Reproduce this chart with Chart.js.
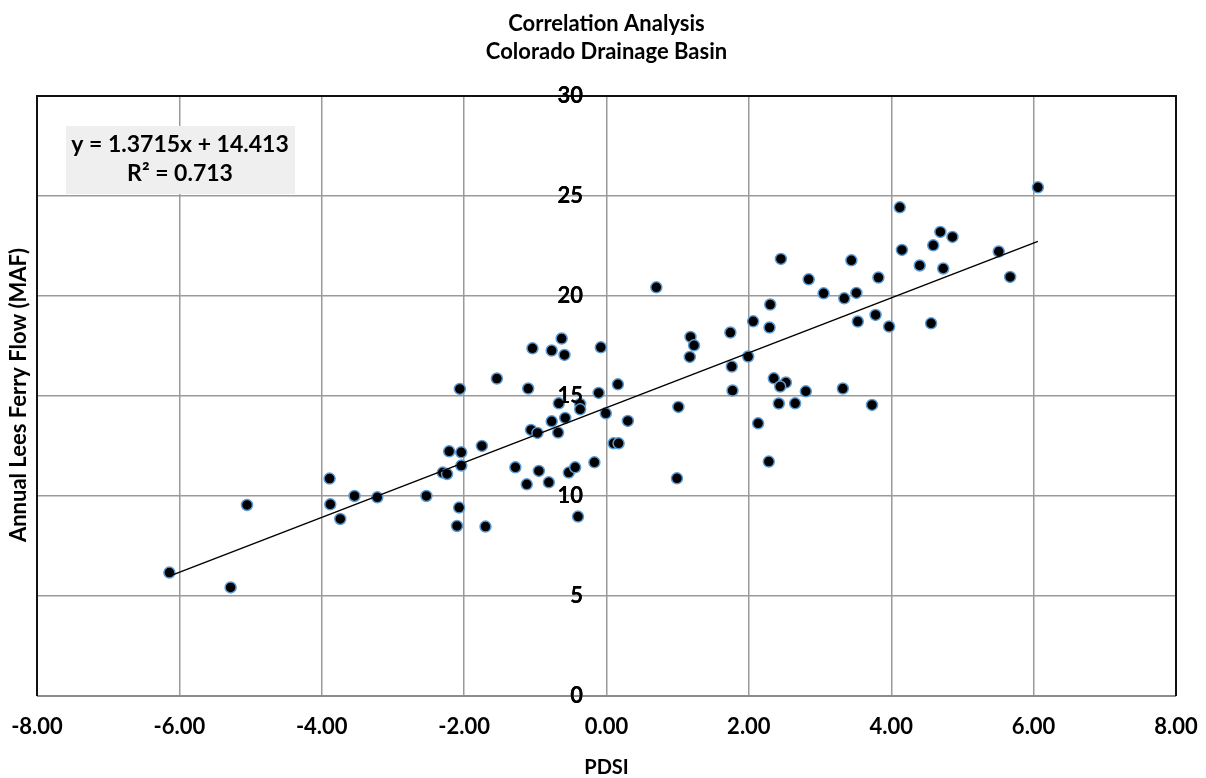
<!DOCTYPE html>
<html>
<head>
<meta charset="utf-8">
<script src="https://cdn.jsdelivr.net/npm/chart.js@4.4.0/dist/chart.umd.min.js"></script>
<style>
  html, body { margin: 0; padding: 0; background: #fff; }
  #wrap { width: 1206px; height: 778px; }
</style>
</head>
<body>
<div id="wrap"><canvas id="chart" width="1206" height="778"></canvas></div>
<script>
// PDSI vs annual flow
const pdsi = [
  -6.14, -5.28, -5.05, -3.89, -3.88, -3.74, -3.54, -3.22, -2.53, -2.21,
  -2.30, -2.24, -2.04, -2.04, -2.06, -2.07, -2.10, -1.75, -1.70, -1.54,
  -1.28, -1.12, -1.10, -1.06, -0.97, -1.04, -0.95, -0.81, -0.77, -0.63,
  -0.59, -0.67, -0.77, -0.68, -0.58, -0.53, -0.44, -0.40, -0.37, -0.37,
  -0.17, -0.08, -0.11, -0.01, 0.10, 0.17, 0.16, 0.30, 0.70, 1.01,
  0.99, 1.18, 1.23, 1.17, 1.74, 1.76, 1.77, 1.99, 2.06, 2.13,
  2.28, 2.29, 2.30, 2.35, 2.52, 2.44, 2.42, 2.45, 2.65, 2.80,
  2.84, 3.05, 3.32, 3.34, 3.44, 3.51, 3.53, 3.73, 3.78, 3.82,
  3.97, 4.56, 4.12, 4.15, 4.40, 4.59, 4.69, 4.86, 4.73, 5.51,
  5.67, 6.06
];
const flow = [
  6.17, 5.43, 9.55, 10.87, 9.58, 8.85, 10.00, 9.93, 10.00, 12.23,
  11.17, 11.10, 12.18, 11.52, 15.35, 9.42, 8.50, 12.50, 8.47, 15.87,
  11.43, 10.58, 15.37, 13.30, 13.15, 17.38, 11.25, 10.68, 17.27, 17.87,
  17.05, 14.63, 13.73, 13.17, 13.90, 11.17, 11.43, 8.97, 14.60, 14.33,
  11.68, 17.43, 15.15, 14.13, 12.63, 12.63, 15.58, 13.75, 20.43, 14.45,
  10.88, 17.95, 17.53, 16.95, 18.17, 16.47, 15.27, 16.97, 18.73, 13.63,
  11.72, 18.42, 19.57, 15.88, 15.67, 15.47, 14.62, 21.85, 14.63, 15.23,
  20.83, 20.13, 15.37, 19.88, 21.78, 20.15, 18.72, 14.55, 19.05, 20.92,
  18.47, 18.63, 24.43, 22.30, 21.52, 22.53, 23.20, 22.95, 21.37, 22.22,
  20.95, 25.43
];
const xTicks = [-8, -6, -4, -2, 0, 2, 4, 6, 8];
const yTicks = [0, 5, 10, 15, 20, 25, 30];

// linear trend shown on the chart
const slope = 1.3715;
const intercept = 14.413;
const rSquared = 0.713;

const titleLines = ['Correlation Analysis', 'Colorado Drainage Basin'];
const xTitle = 'PDSI';
const yTitle = 'Annual Lees Ferry Flow (MAF)';

const FONT = 'Lato, "Open Sans", sans-serif';

const points = pdsi.map((x, i) => ({ x: x, y: flow[i] }));
const xMin = Math.min(...pdsi);
const xMax = Math.max(...pdsi);
const trend = [
  { x: xMin, y: slope * xMin + intercept },
  { x: xMax, y: slope * xMax + intercept }
];

// 테두리, y축 제목, 회귀식 박스
const extras = {
  id: 'extras',
  afterDraw(chart) {
    const ctx = chart.ctx;
    const a = chart.chartArea;
    ctx.save();

    // plot border
    ctx.lineWidth = 2;
    ctx.strokeStyle = '#8c8c8c';
    ctx.beginPath();
    ctx.moveTo(a.left, a.bottom);
    ctx.lineTo(a.right, a.bottom);
    ctx.stroke();
    ctx.strokeStyle = '#111';
    ctx.beginPath();
    ctx.moveTo(a.left, a.bottom);
    ctx.lineTo(a.left, a.top);
    ctx.lineTo(a.right, a.top);
    ctx.lineTo(a.right, a.bottom);
    ctx.stroke();

    // y title
    ctx.fillStyle = '#000';
    ctx.font = 'bold 22px ' + FONT;
    ctx.textAlign = 'center';
    ctx.textBaseline = 'middle';
    ctx.translate(19, 395);
    ctx.rotate(-Math.PI / 2);
    ctx.fillText(yTitle, 0, 0);
    ctx.restore();

    // equation box
    ctx.save();
    ctx.fillStyle = '#efefef';
    ctx.fillRect(66, 126, 229, 68);
    ctx.fillStyle = '#000';
    ctx.font = 'bold 23px ' + FONT;
    ctx.textAlign = 'center';
    ctx.textBaseline = 'middle';
    ctx.fillText('y = ' + slope + 'x + ' + intercept, 180, 145);
    ctx.fillText('R\u00b2 = ' + rSquared, 180, 174);
    ctx.restore();

    // y 눈금 "30"이 위 테두리 위에 보이도록 다시 그림
    chart.scales.y.drawLabels(a);
  }
};

new Chart(document.getElementById('chart'), {
  type: 'scatter',
  data: {
    datasets: [
      {
        type: 'line',
        data: trend,
        borderColor: '#000',
        borderWidth: 1.5,
        pointRadius: 0,
        fill: false,
        order: 0
      },
      {
        data: points,
        backgroundColor: '#000',
        borderColor: '#5b9bd5',
        borderWidth: 1.5,
        pointRadius: 5.5,
        order: 1
      }
    ]
  },
  options: {
    responsive: false,
    animation: false,
    layout: { padding: { left: 37, right: 30, top: 0, bottom: 0 } },
    plugins: {
      legend: { display: false },
      tooltip: { enabled: false },
      title: {
        display: true,
        text: titleLines,
        color: '#000',
        font: { family: FONT, size: 22, weight: 'bold', lineHeight: 1.27 },
        padding: { top: 10, bottom: 30 }
      }
    },
    scales: {
      x: {
        type: 'linear',
        min: -8,
        max: 8,
        afterBuildTicks: s => { s.ticks = xTicks.map(v => ({ value: v })); },
        // 라벨 폭 때문에 생기는 여백은 layout padding으로 대신함
        afterFit: s => { s.paddingLeft = 0; s.paddingRight = 0; },
        grid: { color: '#9a9a9a', lineWidth: 1.5, drawTicks: false },
        border: { display: false },
        ticks: {
          color: '#000',
          padding: 20,
          font: { family: FONT, size: 22, weight: 'bold', lineHeight: 1.0 },
          callback: v => v.toFixed(2)
        },
        title: {
          display: true,
          text: xTitle,
          color: '#000',
          font: { family: FONT, size: 20, weight: 'bold', lineHeight: 1.0 },
          padding: { top: 0, bottom: 0 }
        }
      },
      y: {
        type: 'linear',
        position: { x: -0.33 },
        min: 0,
        max: 30,
        afterBuildTicks: s => { s.ticks = yTicks.map(v => ({ value: v })); },
        grid: { color: '#9a9a9a', lineWidth: 1.5, drawTicks: false },
        border: { display: false },
        ticks: {
          color: '#000',
          padding: 0,
          font: { family: FONT, size: 22, weight: 'bold' }
        }
      }
    }
  },
  plugins: [extras]
});
</script>
</body>
</html>
